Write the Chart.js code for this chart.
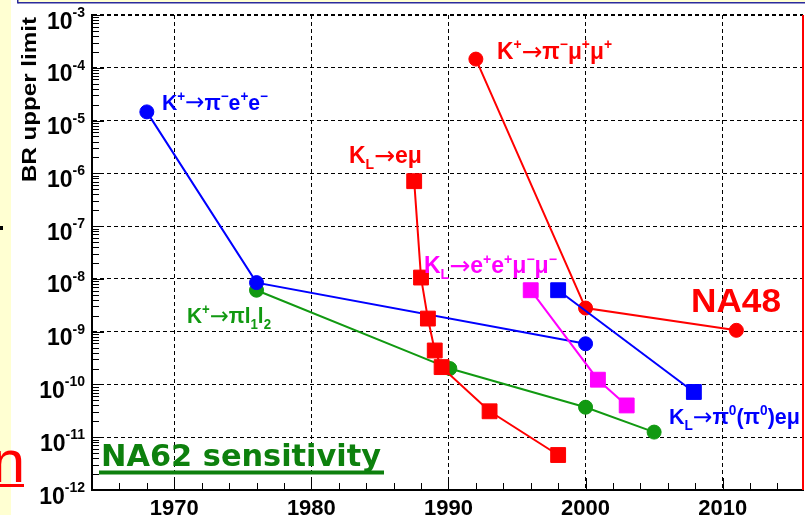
<!DOCTYPE html>
<html lang="en">
<head>
<meta charset="UTF-8">
<title>BR upper limits vs year</title>
<style>
  html, body { margin: 0; padding: 0; background: #fff; }
  #wrap { width: 805px; height: 515px; }
</style>
</head>
<body>
<div id="wrap"><canvas id="chart" width="805" height="515"></canvas></div>
<script src="https://cdn.jsdelivr.net/npm/chart.js"></script>
<script>
// values (year, branching ratio upper limit)
const kpPiEeYears = [1968, 1976, 2000];
const kpPiEeBR = [1.46e-5, 8.5e-9, 5.9e-10];

const kpPiLLYears = [1976, 1990.1, 2000, 2005];
const kpPiLLBR = [6.1e-9, 2.0e-10, 3.7e-11, 1.25e-11];

const klEMuYears = [1987.5, 1988, 1988.5, 1989, 1989.5, 1993, 1998];
const klEMuBR = [7.1e-7, 1.06e-8, 1.77e-9, 4.4e-10, 2.13e-10, 3.1e-11, 4.6e-12];

const kpPiMuMuYears = [1992, 2000, 2011];
const kpPiMuMuBR = [1.46e-4, 2.8e-9, 1.06e-9];

const klEEMuMuYears = [1996, 2000.9, 2003];
const klEEMuMuBR = [6.1e-9, 1.23e-10, 4.0e-11];

const klPi0EMuYears = [1998, 2007.9];
const klPi0EMuBR = [6.1e-9, 7.2e-11];

const xTickYears = [1970, 1980, 1990, 2000, 2010];
const yTickExponents = ['-3', '-4', '-5', '-6', '-7', '-8', '-9', '-10', '-11', '-12'];

const BLUE = '#0000ff';
const RED = '#ff0000';
const GREEN = '#119911';
const MAGENTA = '#ff00ff';
const FONT = "'Liberation Sans', Arial, sans-serif";

// text labels, anchored in data coords (year, log10 BR) at left end of baseline
const notes = [
    { text: 'K^{+}→π^{−}e^{+}e^{−}', year: 1969.1, exp: -4.80, color: BLUE, size: 22, width: 106 },
    { text: 'K^{+}→π^{−}μ^{+}μ^{+}', year: 1993.54, exp: -3.835, color: RED, size: 23, width: 115 },
    { text: 'K_{L}→eμ', year: 1982.74, exp: -5.807, color: RED, size: 23, width: 73 },
    { text: 'K_{L}→e^{+}e^{+}μ^{−}μ^{−}', year: 1988.21, exp: -7.894, color: MAGENTA, size: 23, width: 133 },
    { text: 'K^{+}→πl_{1}l_{2}', year: 1970.93, exp: -8.842, color: GREEN, size: 22, width: 84 },
    { text: 'NA48', year: 2007.69, exp: -8.633, color: RED, size: 34, width: 90 },
    { text: 'K_{L}→π^{0}(π^{0})eμ', year: 2006.08, exp: -10.758, color: BLUE, size: 22, width: 131 }
];

function parseRich(str) {
    const parts = [];
    const re = /([\^_])\{([^}]*)\}|(→)|([^\^_→]+)/g;
    let m;
    while ((m = re.exec(str))) {
        if (m[1]) parts.push([m[2], m[1]]);
        else if (m[3]) parts.push([m[3], 'a']);
        else parts.push([m[4], '']);
    }
    return parts;
}

function drawRich(c, str, x, y, size, color, width) {
    const parts = parseRich(str);
    const fontFor = k => {
        if (k === 'a') return Math.round(size * 1.1) + 'px DejaVu Sans';
        return 'bold ' + (k === '^' || k === '_' ? Math.round(size * 0.62) : size) + 'px ' + FONT;
    };
    let natural = 0;
    parts.forEach(([t, k]) => { c.font = fontFor(k); natural += c.measureText(t).width; });
    c.save();
    c.fillStyle = color;
    c.textAlign = 'left';
    c.textBaseline = 'alphabetic';
    c.translate(x, y);
    c.scale(width ? width / natural : 1, 1);
    let cx = 0;
    parts.forEach(([t, k]) => {
        c.font = fontFor(k);
        let dy = 0;
        if (k === '^') dy = -size * 0.42;
        if (k === '_') dy = size * 0.24;
        if (k === 'a') dy = size * 0.02;
        c.fillText(t, cx, dy);
        cx += c.measureText(t).width;
    });
    c.restore();
}

function series(label, xs, ys, color, style) {
    return {
        label: label,
        data: xs.map((x, i) => ({ x: x, y: ys[i] })),
        borderColor: color,
        backgroundColor: color,
        borderWidth: 2,
        pointStyle: style,
        pointRadius: style === 'rect' ? 10.5 : 7,
        pointBorderWidth: 1,
        pointBorderColor: color,
        pointBackgroundColor: color,
        tension: 0,
        fill: false,
        clip: false
    };
}

const decor = {
    id: 'decor',
    beforeDraw(chart) {
        const c = chart.ctx;
        c.save();
        c.fillStyle = '#fff';
        c.fillRect(0, 0, chart.width, chart.height);
        // slide background bits
        c.fillStyle = '#ffffd2';
        c.fillRect(0, 0, 11, chart.height);
        c.fillRect(18, 0, chart.width - 18, 2);
        c.fillStyle = '#2b2b9c';
        c.fillRect(18, 2, chart.width - 18, 1.5);
        c.fillRect(17, 0, 1.5, 3.5);
        c.restore();
    },
    beforeDatasetsDraw(chart) {
        const c = chart.ctx;
        const xs = chart.scales.x, ys = chart.scales.y;
        const a = chart.chartArea;
        c.save();
        c.strokeStyle = '#000';
        c.lineWidth = 1;
        c.beginPath();
        // inner ticks on y (log)
        for (let e = -12; e < -3; e++) {
            for (let m = 1; m <= 9; m++) {
                const py = Math.round(ys.getPixelForValue(m * Math.pow(10, e))) + 0.5;
                const len = m === 1 ? 12 : 7;
                c.moveTo(a.left, py);
                c.lineTo(a.left + len, py);
            }
        }
        const top = Math.round(ys.getPixelForValue(1e-3)) + 0.5;
        c.moveTo(a.left, top);
        c.lineTo(a.left + 12, top);
        // inner ticks on x
        for (let yr = 1966; yr <= 2014; yr += 2) {
            const px = Math.round(xs.getPixelForValue(yr)) + 0.5;
            const len = yr % 10 === 0 ? 12 : 7;
            c.moveTo(px, a.bottom);
            c.lineTo(px, a.bottom - len);
        }
        c.stroke();

        // y tick labels 10^n
        c.fillStyle = '#000';
        c.textAlign = 'right';
        c.textBaseline = 'alphabetic';
        ys.ticks.forEach((t, i) => {
            const py = ys.getPixelForValue(t.value);
            const ex = yTickExponents[i];
            c.font = 'bold 14px ' + FONT;
            c.fillText(ex, 85, py + 2);
            const ew = c.measureText(ex).width;
            c.font = 'bold 23px ' + FONT;
            c.fillText('10', 85 - ew, py + 13.5);
        });

        // y axis title
        c.save();
        c.translate(36, 182);
        c.rotate(-Math.PI / 2);
        c.font = 'bold 20px ' + FONT;
        const tw = c.measureText('BR upper limit').width;
        c.scale(165 / tw, 1);
        c.textAlign = 'left';
        c.fillText('BR upper limit', 0, 0);
        c.restore();

        // red frame edge on the right
        c.fillStyle = RED;
        c.fillRect(802, a.top, 2, a.bottom - a.top);
        c.restore();
    },
    afterDatasetsDraw(chart) {
        const c = chart.ctx;
        const xs = chart.scales.x, ys = chart.scales.y;
        notes.forEach(n => {
            drawRich(c, n.text, xs.getPixelForValue(n.year), ys.getPixelForValue(Math.pow(10, n.exp)),
                n.size, n.color, n.width);
        });
        // NA62 sensitivity, underlined
        c.save();
        c.fillStyle = '#0d800d';
        c.font = 'bold 30px DejaVu Sans';
        const w = c.measureText('NA62 sensitivity').width;
        c.translate(xs.getPixelForValue(1964.66), 466);
        c.scale(280 / w, 1);
        c.textAlign = 'left';
        c.fillText('NA62 sensitivity', 0, 0);
        c.restore();
        c.save();
        c.fillStyle = '#0d800d';
        c.fillRect(99, 470.5, 285, 4);
        // pieces of slide text cut by the picture edge
        c.fillStyle = RED;
        c.font = '60px ' + FONT;
        const nb = c.measureText('n');
        c.textAlign = 'left';
        c.fillText('n', 21.7 - nb.actualBoundingBoxRight, 482);
        c.fillRect(0, 484, 24, 3);
        c.fillStyle = '#000';
        c.fillRect(0, 226, 3, 4);
        c.restore();
    }
};

new Chart(document.getElementById('chart'), {
    type: 'line',
    data: {
        datasets: [
            series('KL->pi0(pi0)emu', klPi0EMuYears, klPi0EMuBR, BLUE, 'rect'),
            series('KL->e+e+mu-mu-', klEEMuMuYears, klEEMuMuBR, MAGENTA, 'rect'),
            series('KL->emu', klEMuYears, klEMuBR, RED, 'rect'),
            series('K+->pi-mu+mu+', kpPiMuMuYears, kpPiMuMuBR, RED, 'circle'),
            series('K+->pi-e+e-', kpPiEeYears, kpPiEeBR, BLUE, 'circle'),
            series('K+->pil1l2', kpPiLLYears, kpPiLLBR, GREEN, 'circle')
        ]
    },
    options: {
        responsive: false,
        animation: false,
        layout: { autoPadding: false, padding: { left: 0, right: 2, top: 15, bottom: 0 } },
        plugins: { legend: { display: false }, tooltip: { enabled: false } },
        scales: {
            x: {
                type: 'linear',
                min: 1964,
                max: 2015.86,
                afterFit(s) { s.height = 25; },
                afterBuildTicks(s) { s.ticks = xTickYears.map(v => ({ value: v })); },
                grid: { color: '#000', lineWidth: 1, drawTicks: false },
                border: { display: true, color: '#000', width: 2, dash: [4, 3] },
                ticks: {
                    autoSkip: false,
                    maxRotation: 0,
                    padding: 6,
                    color: '#000',
                    font: { family: FONT, weight: 'bold', size: 22 },
                    callback: v => String(v)
                }
            },
            y: {
                type: 'logarithmic',
                min: 1e-12,
                max: 1e-3,
                afterFit(s) { s.width = 92; },
                afterBuildTicks(s) { s.ticks = yTickExponents.map(e => ({ value: Math.pow(10, Number(e)) })); },
                grid: {
                    color: '#000',
                    lineWidth: ctx => (ctx.tick && ctx.tick.value === 1e-3 ? 2 : 1),
                    drawTicks: false
                },
                border: { display: true, color: '#000', width: 2, dash: [4, 3] },
                ticks: { display: false }
            }
        }
    },
    plugins: [decor]
});
</script>
</body>
</html>
